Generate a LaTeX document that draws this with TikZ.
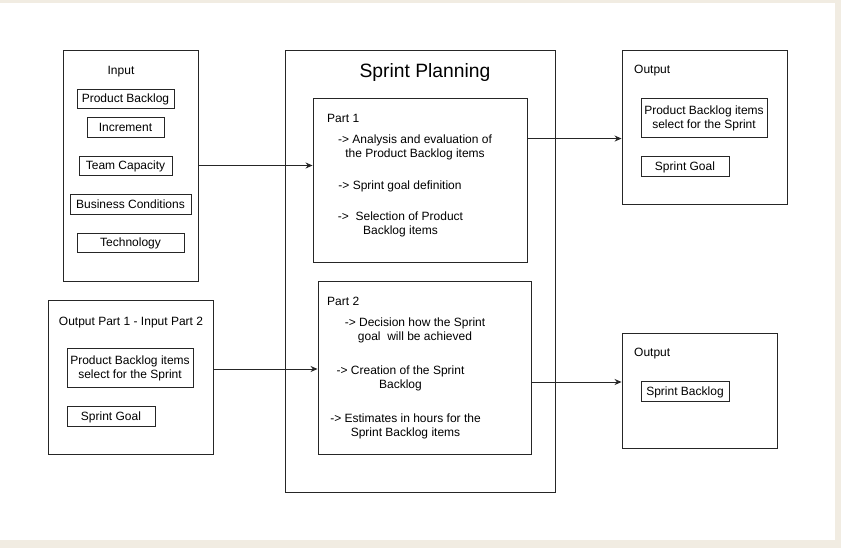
\documentclass[tikz,border=0pt]{standalone}
\usepackage{fontspec}
\setmainfont{Liberation Sans}
\usepackage{xcolor}
\usetikzlibrary{arrows.meta, positioning, calc}

\definecolor{paper}{HTML}{F1ECE2}
\definecolor{linegray}{HTML}{262626}

\tikzset{
  box/.style={draw=linegray, line width=0.9pt, inner sep=0pt},
  item/.style={draw=linegray, line width=0.9pt, inner sep=0pt, text height=8.6pt, text depth=0pt,
    font=\fontsize{12}{14}\selectfont},
  lbl/.style={inner sep=0pt, text height=8.6pt, text depth=0pt, font=\fontsize{12}{14}\selectfont},
  step text/.style={inner sep=0pt, align=center, yshift=-1.2pt, font=\fontsize{12}{14}\selectfont},
  flow/.style={-{Stealth[length=7pt,width=6pt]}, draw=linegray, line width=0.9pt}
}

\begin{document}
\begin{tikzpicture}[x=1pt, y=-1pt]
% page
\fill[paper] (0,0) rectangle (841,548);
\fill[white] (0,3) rectangle (835,540);
\useasboundingbox (0,0) rectangle (841,548);

% Input
\node[box, minimum width=135, minimum height=231] (input) at (130.5,165.5) {};
\node[lbl] (inputtitle) at (121,70.2) {Input};
\node[item, minimum width=97, minimum height=19] (pbacklog) at (125.5,98.5) {Product Backlog};
\node[item, minimum width=77, minimum height=20] (increment) at (125.5,127) {Increment};
\node[item, minimum width=93, minimum height=19] (capacity) at (125.5,165.5) {Team Capacity};
\node[item, minimum width=121, minimum height=20] (business) at (130.5,204) {Business Conditions};
\node[item, minimum width=107, minimum height=19] (technology) at (130.5,242.5) {Technology};

% Output Part 1 - Input Part 2
\node[box, minimum width=165, minimum height=154] (handover) at (130.5,377) {};
\node[lbl] (handovertitle) at (131,321.2) {Output Part 1 - Input Part 2};
\node[box, minimum width=126, minimum height=39] (hoitems) at (130,367.5) {};
\node[step text] (hoitemstext) at (hoitems.center) {Product Backlog items\\select for the Sprint};
\node[item, minimum width=88, minimum height=20] (hogoal) at (111,416) {Sprint Goal};

% Sprint Planning
\node[box, minimum width=270, minimum height=442] (planning) at (420,271) {};
\node[inner sep=0pt, text height=13.8pt, text depth=0pt, font=\fontsize{19.3}{22}\selectfont] (planningtitle) at (425,70.7) {Sprint Planning};

% Part 1
\node[box, minimum width=214, minimum height=164] (part1) at (420,180) {};
\node[lbl, anchor=west] (part1title) at (327,117.8) {Part 1};
\node[step text] (analysis) at (415,146.2) {-> Analysis and evaluation of\\the Product Backlog items};
\node[step text] (goaldef) at (400,185.5) {-> Sprint goal definition};
\node[step text] (selection) at (400.5,223) {->\ \ Selection of Product\\Backlog items};

% Part 2
\node[box, minimum width=213, minimum height=173] (part2) at (424.5,367.5) {};
\node[lbl, anchor=west] (part2title) at (327,301.2) {Part 2};
\node[step text] (decision) at (415,329) {-> Decision how the Sprint\\goal\ \ will be achieved};
\node[step text] (creation) at (400.5,377) {-> Creation of the Sprint\\Backlog};
\node[step text] (estimates) at (405.5,425) {-> Estimates in hours for the\\Sprint Backlog items};

% Output 1
\node[box, minimum width=165, minimum height=154] (out1) at (704.5,127) {};
\node[lbl, anchor=west] (out1title) at (634,69.5) {Output};
\node[box, minimum width=126, minimum height=39] (outitems) at (704,117.5) {};
\node[step text] (outitemstext) at (outitems.center) {Product Backlog items\\select for the Sprint};
\node[item, minimum width=88, minimum height=20] (outgoal) at (685,166) {Sprint Goal};

% Output 2
\node[box, minimum width=155, minimum height=115] (out2) at (699.5,390.5) {};
\node[lbl, anchor=west] (out2title) at (634,352.5) {Output};
\node[item, minimum width=88, minimum height=20] (outbacklog) at (685,391) {Sprint Backlog};

% connectors
\draw[flow] (input.east) -- (input.east -| part1.west);
\draw[flow] ([yshift=-41pt]part1.north east) -- ([yshift=-41pt]part1.north east -| out1.west);
\draw[flow] ([yshift=8pt]handover.east) -- ([yshift=8pt]handover.east -| part2.west);
\draw[flow] ([yshift=-14.5pt]part2.east) -- ([yshift=-14.5pt]part2.east -| out2.west);
\end{tikzpicture}
\end{document}
